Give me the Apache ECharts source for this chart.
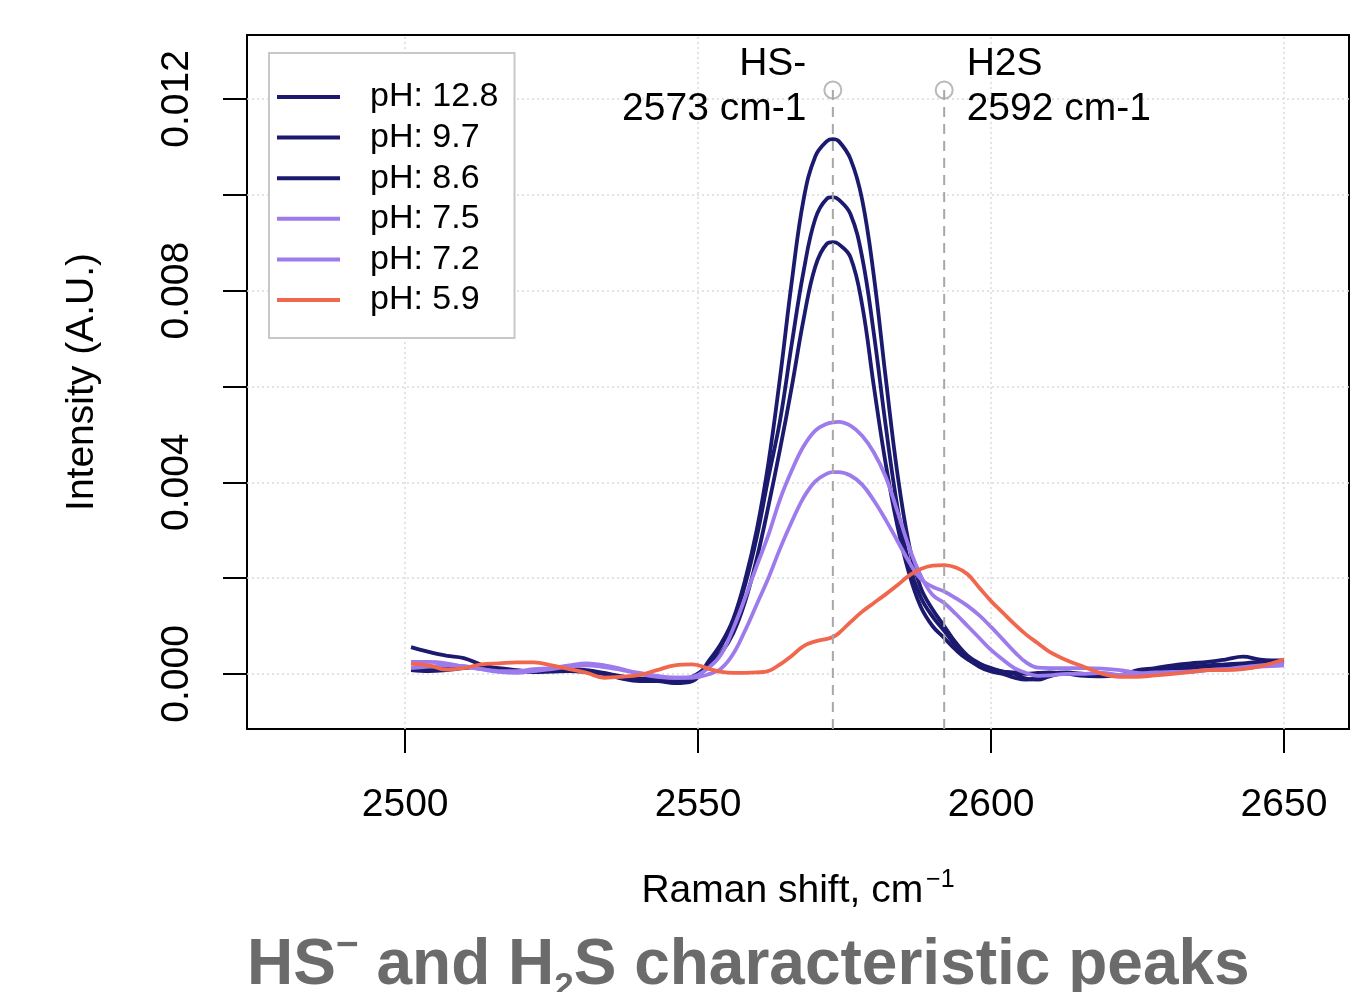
<!DOCTYPE html>
<html><head><meta charset="utf-8">
<script src="https://cdn.jsdelivr.net/npm/echarts@6/dist/echarts.min.js"></script>
<style>html,body{margin:0;padding:0;background:#fff}#c{width:1369px;height:992px}</style>
</head><body><div id="c"></div>
<script>
const ramanShift = [2501,2504,2507,2510,2513,2516,2519,2522,2525,2528,2531,2534,2537,2540,2543,2546,2549,
  2552,2554,2556,2558,2560,2562,2564,2566,2568,2570,2572,2573,2574,
  2576,2578,2580,2582,2584,2586,2588,2590,2592,2594,2596,2598,2600,2602,2604,2606,2608,2610,
  2613,2616,2619,2622,2625,2628,2631,2634,2637,2640,2643,2646,2650];
const ph128 = [0.00056,0.00046,0.00038,0.00033,0.00019,0.00010,0.00006,0.00004,0.00010,0.00008,0.00006,0.00000,-0.00010,-0.00015,-0.00015,-0.00019,-0.00015,
  0.00030,0.00065,0.00115,0.00195,0.00300,0.00440,0.00620,0.00820,0.00990,0.01080,0.01112,0.01116,0.01112,
  0.01075,0.00990,0.00830,0.00620,0.00420,0.00270,0.00180,0.00135,0.00100,0.00065,0.00038,0.00022,0.00012,0.00005,0.00000,-0.00010,-0.00012,-0.00005,
  0.00002,0.00000,-0.00002,-0.00002,0.00008,0.00012,0.00018,0.00022,0.00025,0.00030,0.00036,0.00030,0.00028];
const ph97 = [0.00010,0.00012,0.00010,0.00015,0.00012,0.00008,0.00005,0.00006,0.00008,0.00010,0.00008,0.00002,-0.00005,-0.00010,-0.00012,-0.00018,-0.00010,
  0.00025,0.00060,0.00110,0.00185,0.00285,0.00410,0.00530,0.00690,0.00840,0.00950,0.00992,0.00995,0.00990,
  0.00960,0.00870,0.00710,0.00520,0.00350,0.00230,0.00160,0.00120,0.00090,0.00058,0.00032,0.00015,0.00005,0.00000,-0.00008,-0.00012,-0.00008,0.00000,
  0.00003,-0.00002,0.00000,-0.00003,0.00002,0.00006,0.00012,0.00015,0.00018,0.00020,0.00022,0.00025,0.00025];
const ph86 = [0.00008,0.00006,0.00008,0.00012,0.00015,0.00012,0.00008,0.00004,0.00005,0.00006,0.00004,0.00000,-0.00006,-0.00010,-0.00010,-0.00012,-0.00006,
  0.00020,0.00045,0.00085,0.00150,0.00240,0.00350,0.00470,0.00600,0.00740,0.00850,0.00898,0.00901,0.00897,
  0.00870,0.00770,0.00600,0.00440,0.00310,0.00210,0.00140,0.00100,0.00075,0.00050,0.00030,0.00018,0.00010,0.00005,0.00003,0.00000,0.00002,0.00003,
  0.00000,-0.00004,-0.00005,-0.00003,0.00000,0.00005,0.00008,0.00010,0.00012,0.00016,0.00018,0.00020,0.00020];
const ph75 = [0.00025,0.00025,0.00022,0.00015,0.00010,0.00006,0.00006,0.00010,0.00012,0.00018,0.00022,0.00018,0.00010,0.00000,-0.00006,-0.00008,-0.00006,
  0.00015,0.00042,0.00095,0.00158,0.00225,0.00290,0.00365,0.00425,0.00475,0.00508,0.00522,0.00525,0.00526,
  0.00518,0.00497,0.00462,0.00412,0.00340,0.00265,0.00205,0.00165,0.00148,0.00125,0.00100,0.00075,0.00050,0.00030,0.00012,0.00002,-0.00004,-0.00003,
  0.00000,0.00000,0.00002,-0.00002,0.00000,0.00003,0.00004,0.00005,0.00008,0.00010,0.00012,0.00015,0.00018];
const ph72 = [0.00012,0.00015,0.00018,0.00016,0.00010,0.00004,0.00002,0.00006,0.00010,0.00015,0.00018,0.00014,0.00008,0.00002,-0.00004,-0.00008,-0.00008,
  0.00000,0.00012,0.00042,0.00090,0.00145,0.00200,0.00262,0.00318,0.00368,0.00402,0.00418,0.00421,0.00421,
  0.00414,0.00395,0.00362,0.00322,0.00278,0.00234,0.00198,0.00182,0.00172,0.00158,0.00142,0.00122,0.00098,0.00072,0.00046,0.00024,0.00013,0.00012,
  0.00012,0.00012,0.00011,0.00008,0.00002,0.00000,0.00002,0.00004,0.00008,0.00010,0.00014,0.00018,0.00022];
const ph59 = [0.00021,0.00018,0.00009,0.00012,0.00020,0.00022,0.00024,0.00024,0.00018,0.00010,0.00002,-0.00008,-0.00006,-0.00002,0.00008,0.00018,0.00020,
  0.00010,0.00004,0.00002,0.00002,0.00003,0.00006,0.00020,0.00038,0.00058,0.00068,0.00073,0.00077,0.00085,
  0.00108,0.00130,0.00148,0.00166,0.00185,0.00205,0.00219,0.00226,0.00227,0.00222,0.00208,0.00180,0.00152,0.00128,0.00104,0.00082,0.00064,0.00046,
  0.00028,0.00014,0.00000,-0.00006,-0.00006,-0.00003,0.00000,0.00004,0.00008,0.00008,0.00010,0.00016,0.00030];

const seriesNames = ['pH: 12.8','pH: 9.7','pH: 8.6','pH: 7.5','pH: 7.2','pH: 5.9'];
const seriesValues = [ph128, ph97, ph86, ph75, ph72, ph59];
const seriesColors = ['#1b1a6e','#1b1a6e','#1b1a6e','#9d7bec','#9d7bec','#f0674e'];

const xRange = [2473, 2661.1];
const yRange = [-0.00115, 0.013335];
const xTicks = [2500, 2550, 2600, 2650];
const yTicks = [0, 0.002, 0.004, 0.006, 0.008, 0.010, 0.012];
const yTickLabels = [0, 0.004, 0.008, 0.012];

const peakPositions = [2573, 2592];
const peakNames = ['HS-', 'H2S'];
const peakCaptions = ['2573 cm-1', '2592 cm-1'];
const peakMarkerY = 0.012186;

const FONT = '"Liberation Sans", Arial, sans-serif';
const chart = echarts.init(document.getElementById('c'), null, {renderer: 'canvas'});

const series = [];
// grid lines through the axis scales
series.push({
  type: 'line', data: [], silent: true, z: 1,
  markLine: {
    silent: true, symbol: 'none', animation: false, precision: 6, z: 1,
    label: {show: false},
    lineStyle: {color: '#dadada', type: [2, 3], width: 1.5},
    data: xTicks.map(v => ({xAxis: v})).concat(yTicks.map(v => ({yAxis: v})))
  }
});
seriesValues.forEach((vals, i) => {
  series.push({
    name: seriesNames[i], type: 'line', symbol: 'none', smooth: 0.4, z: 3 + i,
    lineStyle: {color: seriesColors[i], width: 3.8},
    itemStyle: {color: seriesColors[i]},
    data: ramanShift.map((x, j) => [x, vals[j]])
  });
});
peakPositions.forEach((p) => {
  series.push({
    type: 'line', symbol: 'none', silent: true, z: 12,
    lineStyle: {color: '#a8a8a8', width: 2, type: [10, 7]},
    data: [[p, peakMarkerY], [p, yRange[0]]]
  });
});
series.push({
  type: 'scatter', silent: true, z: 13, symbol: 'circle', symbolSize: 17,
  itemStyle: {color: 'rgba(0,0,0,0)', borderColor: '#a8a8a8', borderWidth: 2},
  data: peakPositions.map((p, i) => ({
    value: [p, peakMarkerY],
    label: {
      show: true, position: i === 0 ? 'left' : 'right', distance: i === 0 ? 17 : 13, offset: [0, -3],
      formatter: peakNames[i] + '\n' + peakCaptions[i],
      fontSize: 39, lineHeight: 45, color: '#000', opacity: 1, textBorderWidth: 0, fontFamily: FONT
    }
  }))
});

chart.setOption({
  animation: false,
  backgroundColor: '#fff',
  textStyle: {fontFamily: FONT},
  grid: {left: 247, top: 35, width: 1102, height: 694, show: true, borderColor: '#000', borderWidth: 2, backgroundColor: 'rgba(0,0,0,0)'},
  legend: {
    data: seriesNames, orient: 'vertical', left: 269, top: 53, icon: 'rect', z: 30,
    padding: [24, 16, 18, 8], itemGap: 0.6, itemWidth: 63, itemHeight: 4,
    borderColor: '#c8c8c8', borderWidth: 2, backgroundColor: '#fff',
    textStyle: {fontSize: 34, lineHeight: 40, color: '#000', fontFamily: FONT, padding: [0, 0, 0, 25]}
  },
  xAxis: {
    type: 'value', min: xRange[0], max: xRange[1],
    axisLine: {show: false, onZero: false}, splitLine: {show: false},
    axisTick: {show: true, customValues: xTicks, length: 24, lineStyle: {color: '#000', width: 2}},
    axisLabel: {customValues: xTicks, fontSize: 39, color: '#000', margin: 57, fontFamily: FONT,
      formatter: v => String(v)},
    name: '{m|Raman shift, cm}{s|−1}', nameLocation: 'middle', nameGap: 139,
    nameTextStyle: {
      rich: {
        m: {fontSize: 39, lineHeight: 46, color: '#000', fontFamily: FONT},
        s: {fontSize: 25, lineHeight: 17, verticalAlign: 'top', color: '#000', fontFamily: FONT, padding: [0, 0, 0, 3]}
      }
    }
  },
  yAxis: {
    type: 'value', min: yRange[0], max: yRange[1],
    axisLine: {show: false, onZero: false}, splitLine: {show: false},
    axisTick: {show: true, customValues: yTicks, length: 24, lineStyle: {color: '#000', width: 2}},
    axisLabel: {customValues: yTickLabels, rotate: 90, fontSize: 39, color: '#000', margin: 50, fontFamily: FONT,
      formatter: v => Number(v).toFixed(3)},
    name: 'Intensity (A.U.)', nameLocation: 'middle', nameRotate: 90, nameGap: 145,
    nameTextStyle: {fontSize: 39, color: '#000', fontFamily: FONT}
  },
  graphic: [{
    type: 'text', left: 247, top: 927, z: 100,
    style: {
      text: '{m|HS}{sup|−}{m| and H}{sub|2}{m|S characteristic peaks}',
      rich: {
        m: {fontSize: 64, fontWeight: 'bold', lineHeight: 78, fill: '#6b6b6b', fontFamily: FONT},
        sup: {fontSize: 39, fontWeight: 'bold', lineHeight: 45, verticalAlign: 'top', fill: '#6b6b6b', fontFamily: FONT},
        sub: {fontSize: 35, fontWeight: 'bold', lineHeight: 45, verticalAlign: 'bottom', fill: '#6b6b6b', fontFamily: FONT}
      }
    }
  }],
  series: series
});
</script>
</body></html>
